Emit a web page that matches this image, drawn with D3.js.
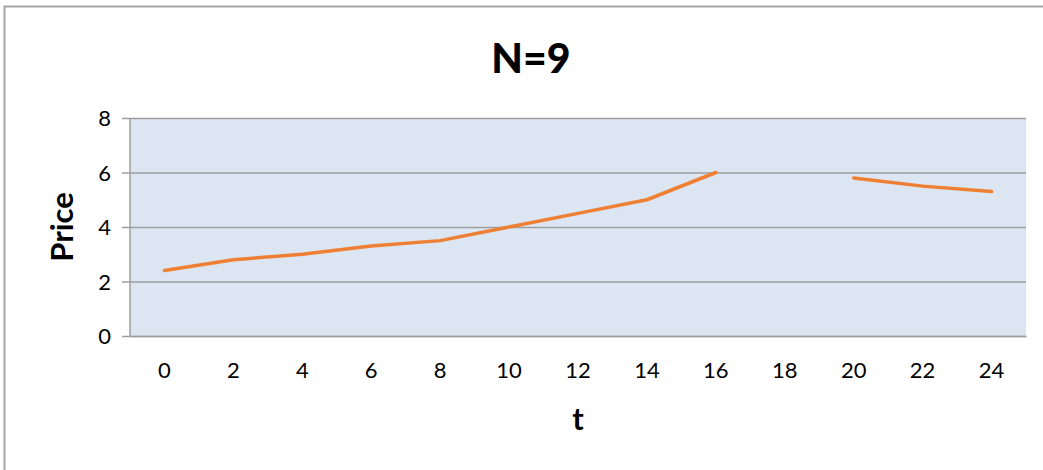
<!DOCTYPE html>
<html><head><meta charset="utf-8">
<script src="https://cdn.jsdelivr.net/npm/d3@7"></script>
<style>html,body{margin:0;padding:0;background:#fff;}svg{display:block;}</style>
</head><body>
<script>
const categories = ["0","2","4","6","8","10","12","14","16","18","20","22","24"];
const prices = [2.4, 2.8, 3.0, 3.3, 3.5, 4.0, 4.5, 5.0, 6.0, null, 5.8, 5.5, 5.3];
const yTicks = [0, 2, 4, 6, 8];
const titleText = "N=9";
const xTitle = "t";
const yTitle = "Price";

const W = 1043, H = 470;
const plot = {left: 130, right: 1026, top: 118, bottom: 336};
const font = "Lato, 'Open Sans', sans-serif";

const svg = d3.select("body").append("svg").attr("width", W).attr("height", H);

// chart frame
svg.append("rect").attr("x", 4.5).attr("y", 6.5).attr("width", 1100).attr("height", 600)
  .attr("fill", "#fff").attr("stroke", "#a6a6a6").attr("stroke-width", 2);

const x = d3.scaleBand().domain(categories).range([plot.left, plot.right]).padding(0);
const y = d3.scaleLinear().domain([0, 8]).range([plot.bottom, plot.top]);

svg.append("rect").attr("x", plot.left).attr("y", plot.top)
  .attr("width", plot.right - plot.left).attr("height", plot.bottom - plot.top)
  .attr("fill", "#dce6f2");

// gridlines + y axis
const yAxis = d3.axisLeft(y).tickValues(yTicks).tickSize(-(plot.right - plot.left)).tickPadding(19);
const gy = svg.append("g").attr("transform", `translate(${plot.left},0)`).call(yAxis);
gy.select(".domain").remove();
gy.selectAll(".tick line").attr("stroke", "#9e9e9e").attr("stroke-width", 1.5).attr("x1", -8);
gy.selectAll(".tick text").attr("font-family", font).attr("font-size", 22).attr("fill", "#000").attr("dy", "0.36em");
svg.append("line").attr("x1", plot.left).attr("x2", plot.left).attr("y1", plot.top).attr("y2", plot.bottom)
  .attr("stroke", "#9e9e9e").attr("stroke-width", 1.5);

// x axis
const xAxis = d3.axisBottom(x).tickSize(0).tickPadding(26);
const gx = svg.append("g").attr("transform", `translate(0,${plot.bottom})`).call(xAxis);
gx.select(".domain").attr("stroke", "#9e9e9e").attr("stroke-width", 1.5);
gx.selectAll(".tick text").attr("font-family", font).attr("font-size", 22).attr("fill", "#000");

// line
const line = d3.line()
  .defined(d => d.v !== null)
  .x(d => x(d.c) + x.bandwidth() / 2)
  .y(d => y(d.v));
svg.append("path")
  .datum(categories.map((c, i) => ({c, v: prices[i]})))
  .attr("d", line).attr("fill", "none").attr("stroke", "#ef7f32")
  .attr("stroke-width", 3.5).attr("stroke-linecap", "round").attr("stroke-linejoin", "round");

// titles
svg.append("text").attr("x", 531).attr("y", 72.5).attr("text-anchor", "middle")
  .attr("font-family", font).attr("font-weight", 900).attr("font-size", 41).text(titleText);
svg.append("text").attr("x", (plot.left + plot.right) / 2).attr("y", 430).attr("text-anchor", "middle")
  .attr("font-family", font).attr("font-weight", "bold").attr("font-size", 31).text(xTitle);
svg.append("text").attr("transform", `translate(73,${(plot.top + plot.bottom) / 2}) rotate(-90)`)
  .attr("text-anchor", "middle")
  .attr("font-family", font).attr("font-weight", "bold").attr("font-size", 31).text(yTitle);
</script>
</body></html>
